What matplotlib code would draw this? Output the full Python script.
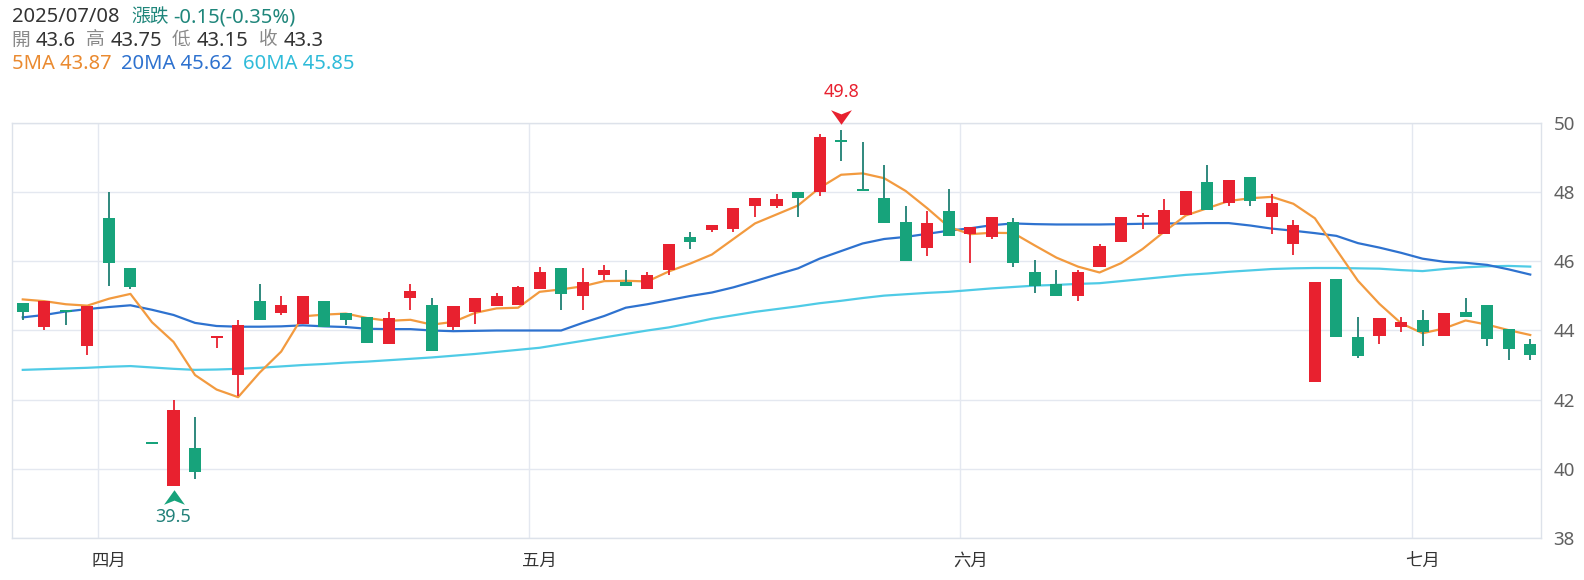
import matplotlib
matplotlib.use("Agg")
from matplotlib import pyplot as plt
from matplotlib.path import Path
import matplotlib.transforms as mtransforms
import numpy as np

plt.rcParams['font.family'] = ['Noto Sans', 'Noto Sans CJK TC']

# ---- data ----
last_date = "2025/07/08"

opens = [44.8, 44.1, 44.6, 43.55, 47.25, 45.8, 40.75, 39.5, 40.6, 43.8,
         42.7, 44.85, 44.5, 44.2, 44.85, 44.5, 44.4, 43.6, 44.95, 44.75,
         44.1, 44.55, 44.7, 44.75, 45.2, 45.8, 45.0, 45.6, 45.4, 45.2,
         45.75, 46.7, 46.9, 46.95, 47.6, 47.6, 48.0, 48.0, 49.5, 48.1,
         47.85, 47.15, 46.4, 47.45, 46.8, 46.7, 47.15, 45.7, 45.35, 45.0,
         45.85, 46.55, 47.3, 46.8, 47.35, 48.3, 47.7, 48.45, 47.3, 46.5,
         42.5, 45.5, 43.8, 43.85, 44.1, 44.3, 43.85, 44.55, 44.75, 44.05,
         43.6]
highs = [44.8, 44.85, 44.6, 44.7, 48.0, 45.8, 40.75, 42.0, 41.5, 43.85,
         44.3, 45.35, 45.0, 45.0, 44.85, 44.5, 44.4, 44.55, 45.35, 44.95,
         44.7, 44.95, 45.1, 45.3, 45.85, 45.8, 45.8, 45.9, 45.75, 45.7,
         46.5, 46.85, 47.05, 47.55, 47.85, 47.95, 48.0, 49.7, 49.8, 49.45,
         48.8, 47.6, 47.45, 48.1, 47.0, 47.3, 47.25, 46.05, 45.75, 45.75,
         46.5, 47.3, 47.4, 47.8, 48.05, 48.8, 48.35, 48.45, 47.95, 47.2,
         45.4, 45.5, 44.4, 44.35, 44.4, 44.6, 44.5, 44.95, 44.75, 44.05,
         43.75]
lows = [44.3, 44.0, 44.15, 43.3, 45.3, 45.2, 40.75, 39.5, 39.7, 43.5,
        42.1, 44.3, 44.45, 44.2, 44.1, 44.15, 43.65, 43.6, 44.6, 43.4,
        44.0, 44.2, 44.7, 44.75, 45.2, 44.6, 44.6, 45.45, 45.3, 45.2,
        45.6, 46.35, 46.85, 46.85, 47.3, 47.55, 47.3, 47.9, 48.9, 48.05,
        47.1, 46.0, 46.15, 46.75, 45.95, 46.65, 45.85, 45.1, 45.0, 44.85,
        45.85, 46.55, 46.95, 46.8, 47.35, 47.5, 47.6, 47.6, 46.8, 46.2,
        42.5, 43.8, 43.2, 43.6, 43.95, 43.55, 43.85, 44.4, 43.55, 43.15,
        43.15]
closes = [44.55, 44.85, 44.55, 44.7, 45.95, 45.25, 40.75, 41.7, 39.9, 43.85,
          44.15, 44.3, 44.75, 45.0, 44.1, 44.3, 43.65, 44.35, 45.15, 43.4,
          44.7, 44.95, 45.0, 45.25, 45.7, 45.05, 45.4, 45.75, 45.3, 45.6,
          46.5, 46.55, 47.05, 47.55, 47.85, 47.8, 47.85, 49.6, 49.45, 48.05,
          47.1, 46.0, 47.1, 46.75, 47.0, 47.3, 45.95, 45.3, 45.0, 45.7,
          46.45, 47.3, 47.35, 47.5, 48.05, 47.5, 48.35, 47.75, 47.7, 47.05,
          45.4, 43.8, 43.25, 44.35, 44.25, 43.95, 44.5, 44.4, 43.75, 43.45,
          43.3]

ma5 = [44.9, 44.85, 44.76, 44.72, 44.92, 45.06, 44.24, 43.67, 42.71, 42.29,
       42.07, 42.78, 43.39, 44.41, 44.46, 44.49, 44.36, 44.28, 44.31, 44.17,
       44.25, 44.51, 44.64, 44.66, 45.12, 45.19, 45.28, 45.43, 45.44, 45.42,
       45.71, 45.94, 46.2, 46.65, 47.1, 47.36, 47.62, 48.13, 48.51, 48.55,
       48.41, 48.04, 47.54, 47.0, 46.79, 46.83, 46.82, 46.46, 46.11, 45.85,
       45.68, 45.95, 46.36, 46.86, 47.33, 47.54, 47.75, 47.83, 47.87, 47.67,
       47.25, 46.34, 45.44, 44.77, 44.21, 43.92, 44.06, 44.29, 44.17, 44.01,
       43.87]
ma20 = [44.38, 44.45, 44.55, 44.62, 44.68, 44.73, 44.6, 44.45, 44.22, 44.13,
        44.11, 44.11, 44.12, 44.15, 44.12, 44.1, 44.05, 44.04, 44.04, 44.0,
        43.98, 43.99, 44.0, 44.0, 44.0, 44.0, 44.22, 44.42, 44.66, 44.76,
        44.88, 45.0, 45.1, 45.25, 45.43, 45.62, 45.8, 46.08, 46.3, 46.52,
        46.65, 46.71, 46.8, 46.89, 46.96, 47.05, 47.1, 47.08, 47.07, 47.07,
        47.07, 47.08, 47.09, 47.1, 47.1, 47.11, 47.11, 47.04, 46.95, 46.89,
        46.82, 46.74, 46.53, 46.4, 46.25, 46.08, 45.99, 45.96, 45.9, 45.77,
        45.62]
ma60 = [42.86, 42.88, 42.9, 42.92, 42.95, 42.97, 42.93, 42.89, 42.86, 42.87,
        42.89, 42.92, 42.96, 43.0, 43.03, 43.07, 43.1, 43.14, 43.18, 43.22,
        43.27, 43.32, 43.38, 43.44, 43.5, 43.6, 43.7, 43.8, 43.9, 44.0,
        44.09, 44.21, 44.34, 44.44, 44.54, 44.62, 44.7, 44.79, 44.86, 44.94,
        45.01, 45.05, 45.09, 45.12, 45.17, 45.22, 45.26, 45.3, 45.32, 45.35,
        45.37, 45.43, 45.49, 45.55, 45.61, 45.65, 45.7, 45.74, 45.78, 45.8,
        45.81, 45.81, 45.8, 45.79, 45.75, 45.72, 45.78, 45.83, 45.86, 45.87,
        45.85]

month_labels = ['四月', '五月', '六月', '七月']
month_first_idx = [4, 24, 44, 65]

# ---- colours ----
RED = '#e8212f'
GREEN = '#17a37b'
GREEN_WICK = '#1f7f73'
C5, C20, C60 = '#f29a3f', '#2e72cf', '#4fcbe6'

W, H, DPI = 1584, 580, 100
fig = plt.figure(figsize=(W / DPI, H / DPI), dpi=DPI)
fig.patch.set_facecolor('white')
ax = fig.add_axes([12 / W, 1 - 537.7 / H, 1529 / W, 414.4 / H])

o, h, l, c = map(np.array, (opens, highs, lows, closes))
x = np.arange(len(c))
prev = np.r_[c[0], c[:-1]]
up = np.where(c == o, c >= prev, c > o)
body_col = np.where(up, RED, GREEN)
wick_col = np.where(up, RED, GREEN_WICK)

# moving averages under the candles
ax.plot(x, ma60, color=C60, lw=1.6, zorder=2)
ax.plot(x, ma20, color=C20, lw=1.6, zorder=2)
ax.plot(x, ma5, color=C5, lw=1.6, zorder=2)

ax.vlines(x, l, h, colors=wick_col, lw=1.3, zorder=3)
body_h = np.maximum(np.abs(c - o), 0.06)
body_b = (o + c) / 2 - body_h / 2
ax.bar(x, body_h, bottom=body_b, width=0.56, color=body_col, lw=0, zorder=4)

# axes look
ax.set_xlim(-0.5, len(c) - 0.5)
ax.set_ylim(38, 50)
ax.set_yticks(range(38, 51, 2))
ax.yaxis.tick_right()
ax.tick_params(axis='y', length=0, pad=9, labelsize=13.5, labelcolor='#606060')
ax.set_xticks(month_first_idx, month_labels)
ax.set_xticks([i - 0.5 for i in month_first_idx], minor=True)
ax.tick_params(axis='x', which='both', length=0, pad=10, labelsize=12.5, labelcolor='#333333')
ax.grid(axis='y', color='#e4e8f0', lw=1)
ax.grid(axis='x', which='minor', color='#e4e8f0', lw=1)
ax.set_axisbelow(True)
for sp in ax.spines.values():
    sp.set_color('#dde2ea')
    sp.set_linewidth(1)

# high / low markers
down_arrow = Path([(0, -0.7), (-1, 0.7), (0, 0.3), (1, 0.7), (0, -0.7)],
                  [Path.MOVETO, Path.LINETO, Path.LINETO, Path.LINETO, Path.CLOSEPOLY])
up_arrow = Path([(0, 0.7), (-1, -0.7), (0, -0.3), (1, -0.7), (0, 0.7)],
                [Path.MOVETO, Path.LINETO, Path.LINETO, Path.LINETO, Path.CLOSEPOLY])
imax, imin = int(np.argmax(h)), int(np.argmin(l))
tr_hi = mtransforms.offset_copy(ax.transData, fig=fig, x=0, y=13, units='dots')
tr_lo = mtransforms.offset_copy(ax.transData, fig=fig, x=0, y=-11, units='dots')
ax.plot(imax, h[imax], marker=down_arrow, ms=15, mew=0, color=RED,
        transform=tr_hi, clip_on=False, zorder=6)
ax.plot(imin, l[imin], marker=up_arrow, ms=15, mew=0, color=GREEN,
        transform=tr_lo, clip_on=False, zorder=6)
ax.annotate(f"{h[imax]:g}", (imax, h[imax]), xytext=(0, 38 * 0.72), textcoords='offset points',
            ha='center', va='center', color=RED, fontsize=13, annotation_clip=False)
ax.annotate(f"{l[imin]:g}", (imin, l[imin]), xytext=(0, -31 * 0.72), textcoords='offset points',
            ha='center', va='center', color='#22817a', fontsize=13, annotation_clip=False)

# header info
chg = c[-1] - c[-2]
pct = chg / c[-2] * 100


def head(px, py, s, color, size=14.5):
    fig.text(px / W, 1 - py / H, s, color=color, fontsize=size, va='baseline', ha='left')


DARK, GRAY = '#333333', '#8a8a8a'
CJK = 13.5
head(12, 22, last_date, DARK)
head(131, 22, "漲跌", '#1f867b', CJK)
head(173, 22, f"{chg:.2f}({pct:.2f}%)", '#1f867b')
head(11, 45.5, "開", GRAY, CJK)
head(36, 45.5, f"{o[-1]:g}", DARK)
head(86, 45.5, "高", GRAY, CJK)
head(111, 45.5, f"{h[-1]:g}", DARK)
head(172, 45.5, "低", GRAY, CJK)
head(197, 45.5, f"{l[-1]:g}", DARK)
head(259, 45.5, "收", GRAY, CJK)
head(284, 45.5, f"{c[-1]:g}", DARK)
head(12, 69, f"5MA {ma5[-1]:.2f}", '#ea8a30')
head(121, 69, f"20MA {ma20[-1]:.2f}", C20)
head(243, 69, f"60MA {ma60[-1]:.2f}", '#2fbbd9')

fig.savefig("out.png", dpi=DPI)
